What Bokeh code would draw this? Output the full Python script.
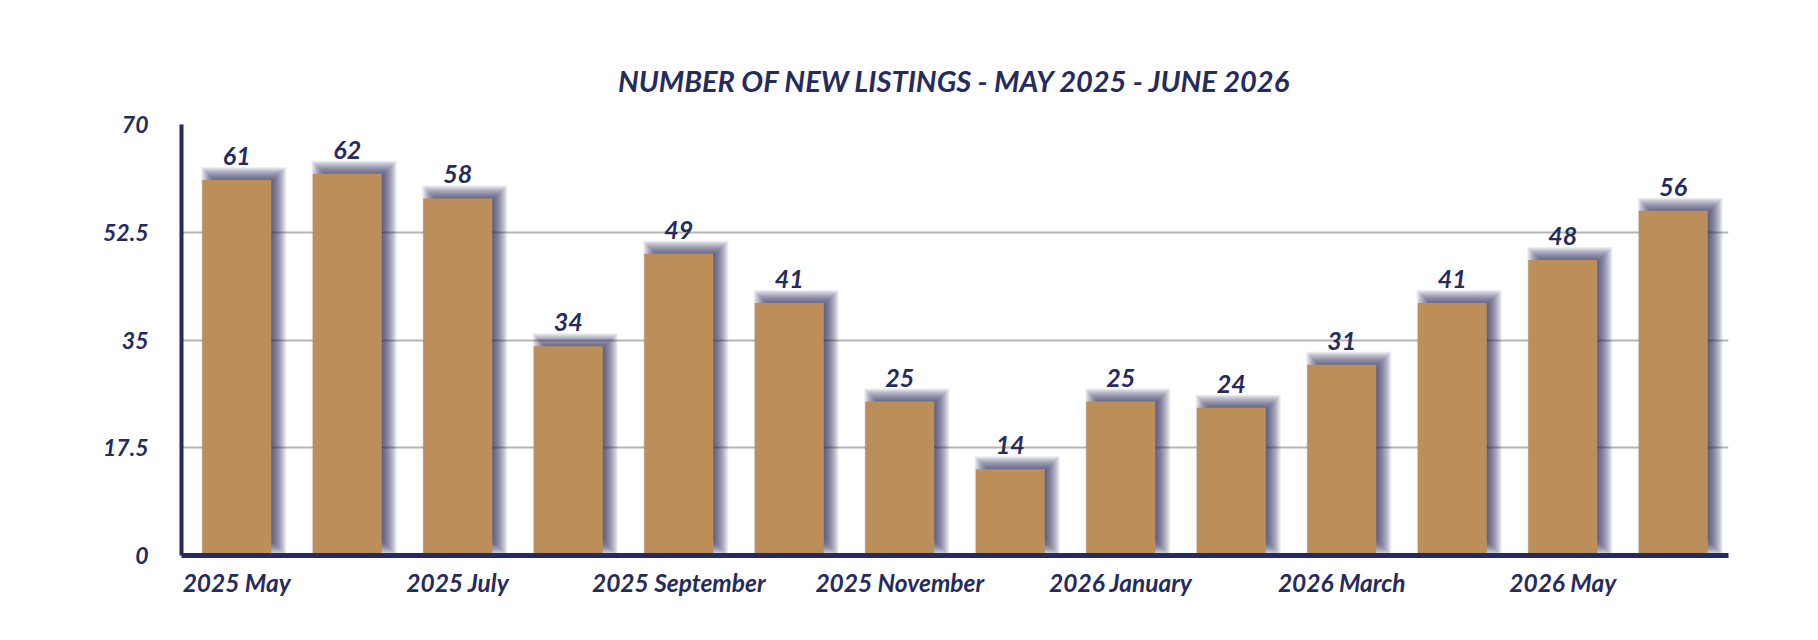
from bokeh.plotting import figure
from bokeh.models import ColumnDataSource, FixedTicker
from bokeh.core.properties import value
from bokeh.embed import file_html
from bokeh.resources import INLINE

# Monthly new listings
months = ["2025 May", "2025 June", "2025 July", "2025 August", "2025 September",
          "2025 October", "2025 November", "2025 December", "2026 January",
          "2026 February", "2026 March", "2026 April", "2026 May", "2026 June"]
listings = [61, 62, 58, 34, 49, 41, 25, 14, 25, 24, 31, 41, 48, 56]
y_ticks = [0, 17.5, 35, 52.5, 70]
x_tick_idx = [0, 2, 4, 6, 8, 10, 12]

NAVY = "#262b5e"
BAR = "#bc8f5a"
FONT = "Lato"

FRAME_W, FRAME_H = 1547, 431
X0, X1 = -0.5, len(months) - 0.5
Y0, Y1 = 0, 70
px_x = (X1 - X0) / FRAME_W      # data units per screen pixel (x)
px_y = (Y1 - Y0) / FRAME_H      # data units per screen pixel (y)

xs = list(range(len(months)))
bar_w = 0.625

p = figure(frame_width=FRAME_W, frame_height=FRAME_H,
           x_range=(X0, X1), y_range=(Y0, Y1),
           min_border_left=181, min_border_right=90,
           min_border_top=124, min_border_bottom=85,
           output_backend="svg", toolbar_location=None,
           background_fill_color="white", border_fill_color="white")
p.outline_line_color = None

p.title.text = "NUMBER OF NEW LISTINGS - MAY 2025 - JUNE 2026"
p.title.align = "center"
p.title.text_font = FONT
p.title.text_font_style = "bold italic"
p.title.text_font_size = "29px"
p.title.text_color = NAVY
p.title.standoff = 53

# soft drop shadow: stacked translucent rectangles, offset right and up
shadow_dx, shadow_dy = 7, 5
for e in range(-7, 9):
    left = [x - bar_w / 2 + (shadow_dx - e) * px_x for x in xs]
    right = [x + bar_w / 2 + (shadow_dx + e) * px_x for x in xs]
    top = [v + (shadow_dy + e) * px_y for v in listings]
    bottom = [(shadow_dy - e + 3) * px_y for _ in xs]
    p.quad(left=left, right=right, top=top, bottom=bottom,
           fill_color=NAVY, fill_alpha=0.08, line_color=None)

src = ColumnDataSource(dict(x=xs, top=listings,
                            label_y=[v + 24 * px_y for v in listings],
                            label=[str(v) for v in listings]))
p.vbar(x="x", top="top", width=bar_w, bottom=0, source=src,
       fill_color=BAR, line_color=None)

p.text(x="x", y="label_y", text="label", source=src,
       text_align="center", text_baseline="alphabetic",
       text_font=value(FONT), text_font_style="bold italic",
       text_font_size="25px", text_color=NAVY)

# grid
p.xgrid.grid_line_color = None
p.ygrid.ticker = FixedTicker(ticks=y_ticks)
p.ygrid.grid_line_color = "#b5b5b5"
p.ygrid.grid_line_width = 2

# axes
p.yaxis.ticker = FixedTicker(ticks=y_ticks)
p.yaxis.major_label_overrides = {0: "0", 17.5: "17.5", 35: "35", 52.5: "52.5", 70: "70"}
p.xaxis.ticker = FixedTicker(ticks=x_tick_idx)
p.xaxis.major_label_overrides = {i: months[i] for i in x_tick_idx}
for ax, lw in ((p.yaxis, 4), (p.xaxis, 5)):
    ax.axis_line_color = NAVY
    ax.axis_line_width = lw
    ax.major_tick_line_color = None
    ax.minor_tick_line_color = None
    ax.major_label_text_color = NAVY
    ax.major_label_text_font = FONT
    ax.major_label_text_font_style = "bold italic"
p.yaxis.major_label_text_font_size = "23px"
p.yaxis.major_label_standoff = 27
p.xaxis.major_label_text_font_size = "24.5px"
p.xaxis.major_label_standoff = 6

open("out.html", "w").write(file_html(p, INLINE))
